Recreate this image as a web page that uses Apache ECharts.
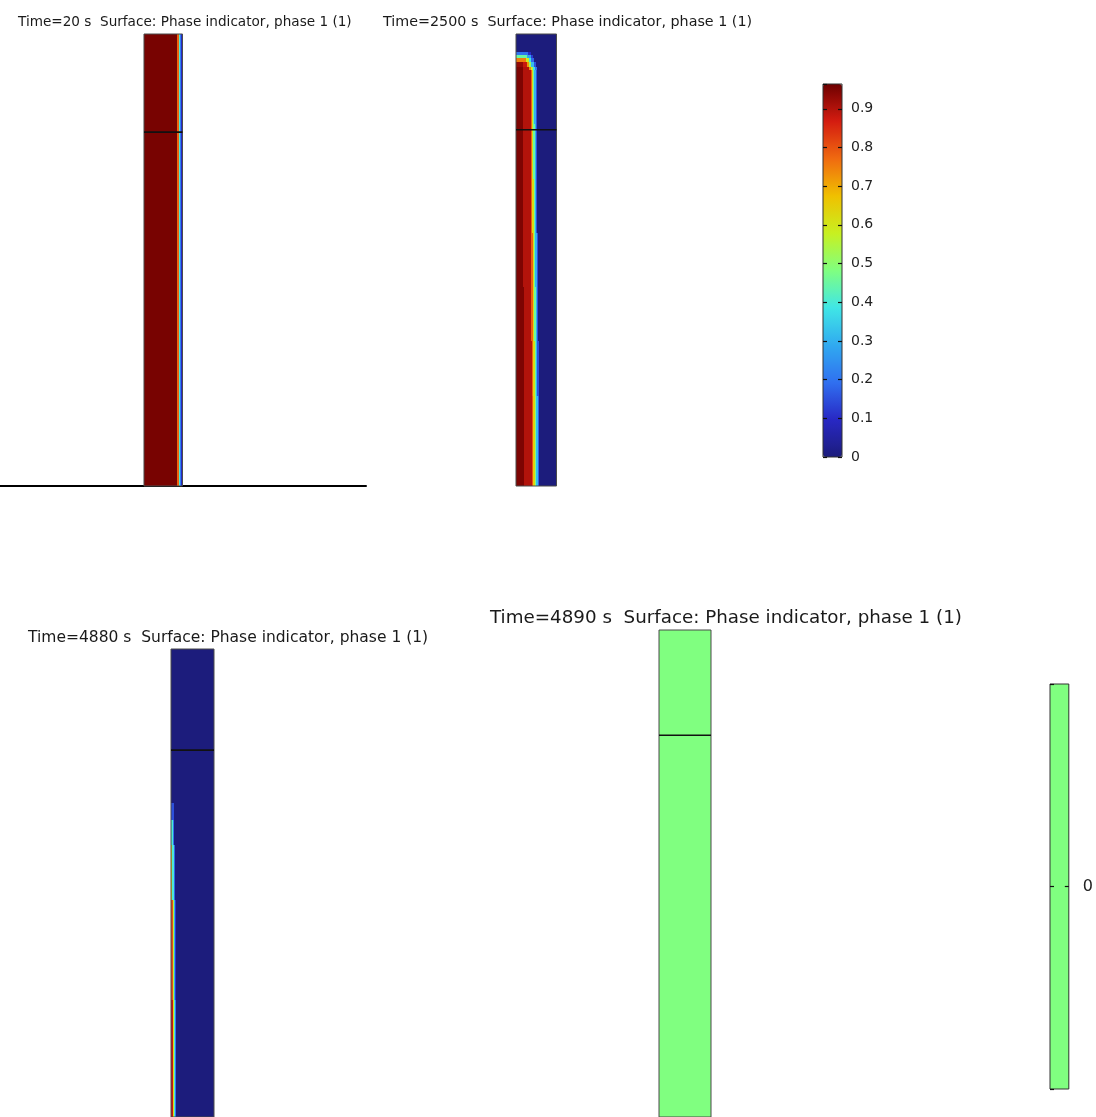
<!DOCTYPE html>
<html>
<head>
<meta charset="utf-8">
<script src="https://cdn.jsdelivr.net/npm/echarts@6/dist/echarts.min.js"></script>
<style>
  html, body { margin: 0; padding: 0; background: #ffffff; }
  #chart { width: 1096px; height: 1117px; }
</style>
</head>
<body>
<div id="chart"></div>
<script>
// Phase indicator (phase 1) in the column at four times.
// Each field is stored as horizontal bands (rows, top -> bottom, fraction of
// column height) and, per band, bin edges across the width (left wall -> right
// wall) with the phase value in each bin.

const FONT = 'DejaVu Sans';

const titles = [
  'Time=20 s  Surface: Phase indicator, phase 1 (1)',
  'Time=2500 s  Surface: Phase indicator, phase 1 (1)',
  'Time=4880 s  Surface: Phase indicator, phase 1 (1)',
  'Time=4890 s  Surface: Phase indicator, phase 1 (1)'
];

// t = 20 s
const t20Rows  = [0, 1];
const t20Edges = [[0, 0.87, 0.9, 0.92, 0.94, 0.965, 1]];
const t20Phase = [[0.955, 0.78, 0.6, 0.4, 0.22, 0.1]];

// t = 2500 s
const t2500Rows  = [0, 0.04, 0.046, 0.053, 0.062, 0.072, 0.08, 0.2, 0.32, 0.44, 0.56, 0.68, 0.8, 1];
const t2500Edges = [
  [0, 1],
  [0, 0.3, 0.38, 1],
  [0, 0.28, 0.36, 0.42, 1],
  [0, 0.24, 0.31, 0.38, 0.45, 1],
  [0, 0.17, 0.28, 0.33, 0.38, 0.44, 0.5, 1],
  [0, 0.17, 0.33, 0.38, 0.42, 0.46, 0.51, 1],
  [0, 0.17, 0.36, 0.395, 0.425, 0.455, 0.485, 0.515, 1],
  [0, 0.17, 0.365, 0.4, 0.43, 0.46, 0.49, 0.52, 1],
  [0, 0.18, 0.37, 0.405, 0.435, 0.465, 0.5, 0.53, 1],
  [0, 0.18, 0.375, 0.41, 0.445, 0.475, 0.51, 0.54, 1],
  [0, 0.19, 0.38, 0.415, 0.45, 0.485, 0.52, 0.55, 1],
  [0, 0.19, 0.385, 0.42, 0.46, 0.495, 0.53, 0.565, 1],
  [0, 0.2, 0.39, 0.43, 0.47, 0.505, 0.54, 0.58, 1]
];
const t2500Phase = [
  [0],
  [0.2, 0.1, 0],
  [0.45, 0.28, 0.12, 0],
  [0.75, 0.58, 0.38, 0.18, 0],
  [0.93, 0.88, 0.72, 0.52, 0.32, 0.15, 0],
  [0.95, 0.9, 0.74, 0.57, 0.38, 0.2, 0],
  [0.95, 0.9, 0.78, 0.62, 0.45, 0.3, 0.15, 0],
  [0.95, 0.9, 0.78, 0.62, 0.45, 0.3, 0.15, 0],
  [0.95, 0.9, 0.78, 0.62, 0.45, 0.3, 0.15, 0],
  [0.95, 0.9, 0.78, 0.62, 0.45, 0.3, 0.15, 0],
  [0.95, 0.9, 0.78, 0.62, 0.45, 0.3, 0.15, 0],
  [0.95, 0.9, 0.78, 0.62, 0.45, 0.3, 0.15, 0],
  [0.95, 0.9, 0.8, 0.64, 0.48, 0.32, 0.17, 0]
];

// t = 4880 s
const t4880Rows  = [0, 0.329, 0.365, 0.419, 0.536, 0.75, 1];
const t4880Edges = [
  [0, 1],
  [0, 0.06, 1],
  [0, 0.04, 0.08, 1],
  [0, 0.03, 0.06, 0.09, 1],
  [0, 0.04, 0.07, 0.1, 0.12, 1],
  [0, 0.05, 0.08, 0.1, 0.12, 1]
];
const t4880Phase = [
  [0],
  [0.15, 0],
  [0.4, 0.2, 0],
  [0.65, 0.4, 0.18, 0],
  [0.8, 0.55, 0.3, 0.12, 0],
  [0.88, 0.62, 0.4, 0.2, 0]
];

// t = 4890 s (uniform field)
const t4890Rows  = [0, 1];
const t4890Edges = [[0, 1]];
const t4890Phase = [[0]];

// interior boundary of the geometry (fraction of column height from the top)
const boundaryDepth = [0.217, 0.212, 0.216, 0.216];

// colour legend
const phaseRange = [0, 0.964];
const legendLabels = ['0', '0.1', '0.2', '0.3', '0.4', '0.5', '0.6', '0.7', '0.8', '0.9'];
const rainbow = ['#1c1c7c', '#2828c4', '#3070f0', '#30aaf0', '#40e6e6', '#80ff80',
                 '#c8f020', '#f0c000', '#f06a10', '#d41c10', '#6e0000'];

function buildCells(rows, edges, phase) {
  const cells = [];
  for (let r = 0; r < rows.length - 1; r++) {
    for (let c = 0; c < phase[r].length; c++) {
      cells.push([edges[r][c], edges[r][c + 1], rows[r], rows[r + 1], phase[r][c]]);
    }
  }
  return cells;
}

function outlineOf(rows, edges) {
  return [[edges[0][0], edges[0][edges[0].length - 1], rows[0], rows[rows.length - 1]]];
}

// filled cell, snapped to whole pixels so neighbouring cells meet without seams
function renderCell(params, api) {
  const a = api.coord([api.value(0), api.value(2)]);
  const b = api.coord([api.value(1), api.value(3)]);
  const x0 = Math.round(Math.min(a[0], b[0])), x1 = Math.round(Math.max(a[0], b[0]));
  const y0 = Math.round(Math.min(a[1], b[1])), y1 = Math.round(Math.max(a[1], b[1]));
  return {
    type: 'rect',
    shape: { x: x0, y: y0, width: Math.max(x1 - x0, 1), height: Math.max(y1 - y0, 1) },
    style: { fill: api.visual('color') }
  };
}

function renderOutline(params, api) {
  const a = api.coord([api.value(0), api.value(2)]);
  const b = api.coord([api.value(1), api.value(3)]);
  return {
    type: 'rect',
    shape: {
      x: Math.min(a[0], b[0]), y: Math.min(a[1], b[1]),
      width: Math.abs(b[0] - a[0]), height: Math.abs(b[1] - a[1])
    },
    style: { fill: 'none', stroke: '#4a4a4a', lineWidth: 1 }
  };
}

const fields = [
  { rows: t20Rows,   edges: t20Edges,   phase: t20Phase },
  { rows: t2500Rows, edges: t2500Edges, phase: t2500Phase },
  { rows: t4880Rows, edges: t4880Edges, phase: t4880Phase },
  { rows: t4890Rows, edges: t4890Edges, phase: t4890Phase }
];

// grid index of each field plot and of the two legends
const fieldGrid = [0, 1, 3, 4];
const grids = [
  { left: 0,    top: 34,  width: 366,  height: 452 },
  { left: 516,  top: 34,  width: 40.5, height: 452 },
  { left: 823,  top: 84,  width: 19,   height: 373 },
  { left: 171,  top: 649, width: 43,   height: 468 },
  { left: 659,  top: 630, width: 52,   height: 487 },
  { left: 1050, top: 684, right: 23,   height: 405 }
];

const hidden = { show: false };
const xAxes = [
  { gridIndex: 0, type: 'value', min: -3.74, max: 5.766, position: 'bottom',
    axisLine: { show: true, onZero: false, lineStyle: { color: '#000', width: 2 } },
    axisTick: hidden, axisLabel: hidden, splitLine: hidden },
  { gridIndex: 1, type: 'value', min: 0, max: 1, show: false },
  { gridIndex: 2, type: 'value', min: 0, max: 1, show: false },
  { gridIndex: 3, type: 'value', min: 0, max: 1, show: false },
  { gridIndex: 4, type: 'value', min: 0, max: 1, show: false },
  { gridIndex: 5, type: 'value', min: 0, max: 1, show: false }
];

const legendTick = { show: true, inside: true, length: 4, lineStyle: { color: '#111', width: 1.2 } };
const yAxes = [
  { gridIndex: 0, type: 'value', min: 0, max: 1, inverse: true, show: false },
  { gridIndex: 1, type: 'value', min: 0, max: 1, inverse: true, show: false },
  // legend 1: ticks on both edges, labels on the right
  { gridIndex: 2, type: 'value', min: phaseRange[0], max: phaseRange[1], interval: 0.1, position: 'left',
    axisLine: hidden, axisTick: legendTick, axisLabel: hidden, splitLine: hidden, z: 6 },
  { gridIndex: 2, type: 'value', min: phaseRange[0], max: phaseRange[1], interval: 0.1, position: 'right',
    axisLine: hidden, axisTick: legendTick, splitLine: hidden, z: 6,
    axisLabel: { show: true, margin: 9, showMaxLabel: false, color: '#222',
      fontFamily: FONT, fontSize: 14,
      formatter: v => legendLabels[Math.round(v * 10)] || '' } },
  { gridIndex: 3, type: 'value', min: 0, max: 1, inverse: true, show: false },
  { gridIndex: 4, type: 'value', min: 0, max: 1, inverse: true, show: false },
  // legend 2: degenerate range, single tick at 0
  { gridIndex: 5, type: 'value', min: -1, max: 1, interval: 1, position: 'left',
    axisLine: hidden, axisTick: legendTick, axisLabel: hidden, splitLine: hidden, z: 6 },
  { gridIndex: 5, type: 'value', min: -1, max: 1, interval: 1, position: 'right',
    axisLine: hidden, axisTick: legendTick, splitLine: hidden, z: 6,
    axisLabel: { show: true, margin: 14, showMaxLabel: false, showMinLabel: false,
      color: '#222', fontFamily: FONT, fontSize: 16,
      formatter: v => (v === 0 ? '0' : '') } }
];
const yIndexOfGrid = [0, 1, 2, 4, 5, 6];

const series = [];
const cellSeries = [];
fields.forEach((f, i) => {
  const g = fieldGrid[i];
  cellSeries.push(series.length);
  series.push({
    type: 'custom', name: titles[i], xAxisIndex: g, yAxisIndex: yIndexOfGrid[g],
    renderItem: renderCell, clip: true, silent: true,
    encode: { x: [0, 1], y: [2, 3] },
    data: buildCells(f.rows, f.edges, f.phase), z: 2
  });
  series.push({
    type: 'custom', xAxisIndex: g, yAxisIndex: yIndexOfGrid[g],
    renderItem: renderOutline, clip: false, silent: true,
    encode: { x: [0, 1], y: [2, 3] },
    data: outlineOf(f.rows, f.edges), z: 4
  });
  const e = f.edges[0];
  series.push({
    type: 'line', xAxisIndex: g, yAxisIndex: yIndexOfGrid[g], silent: true,
    symbol: 'none', z: 5,
    lineStyle: { color: '#111', width: 1.6 },
    data: [[e[0], boundaryDepth[i]], [e[e.length - 1], boundaryDepth[i]]]
  });
});

// second legend bar: the single value of the t = 4890 s field
const legend2Series = series.length;
series.push({
  type: 'custom', xAxisIndex: 5, yAxisIndex: 6, renderItem: renderCell, silent: true,
  clip: true, encode: { x: [0, 1], y: [2, 3] },
  data: [[0, 1, -1, 1, t4890Phase[0][0]]], z: 2
});

const titleCfg = [
  { left: 18,  top: 15,  fontSize: 13.6 },
  { left: 383, top: 15,  fontSize: 14.3 },
  { left: 28,  top: 630, fontSize: 15.5 },
  { left: 490, top: 609, fontSize: 18.3 }
];

const option = {
  animation: false,
  backgroundColor: '#ffffff',
  title: titles.map((t, i) => ({
    text: t, left: titleCfg[i].left, top: titleCfg[i].top, padding: 0,
    textStyle: { fontFamily: FONT, fontWeight: 'normal', fontSize: titleCfg[i].fontSize, color: '#1a1a1a' }
  })),
  grid: grids.map((g, i) => Object.assign({
    containLabel: false,
    show: i === 2 || i === 5,
    borderColor: '#333', borderWidth: 1, backgroundColor: 'transparent', z: 6
  }, g)),
  xAxis: xAxes,
  yAxis: yAxes,
  visualMap: [
    {
      type: 'continuous', min: phaseRange[0], max: phaseRange[1], dimension: 4,
      seriesIndex: cellSeries.slice(0, 3), show: true, calculable: false, hoverLink: false,
      left: 823, top: 84, itemWidth: 19, itemHeight: 373, padding: 0, z: 1,
      text: null, textStyle: { color: 'transparent' },
      inRange: { color: rainbow }
    },
    {
      type: 'continuous', min: -1, max: 1, dimension: 4,
      seriesIndex: [cellSeries[3], legend2Series], show: false,
      inRange: { color: rainbow }
    }
  ],
  series: series
};

const chart = echarts.init(document.getElementById('chart'), null, { renderer: 'canvas' });
chart.setOption(option);
</script>
</body>
</html>
